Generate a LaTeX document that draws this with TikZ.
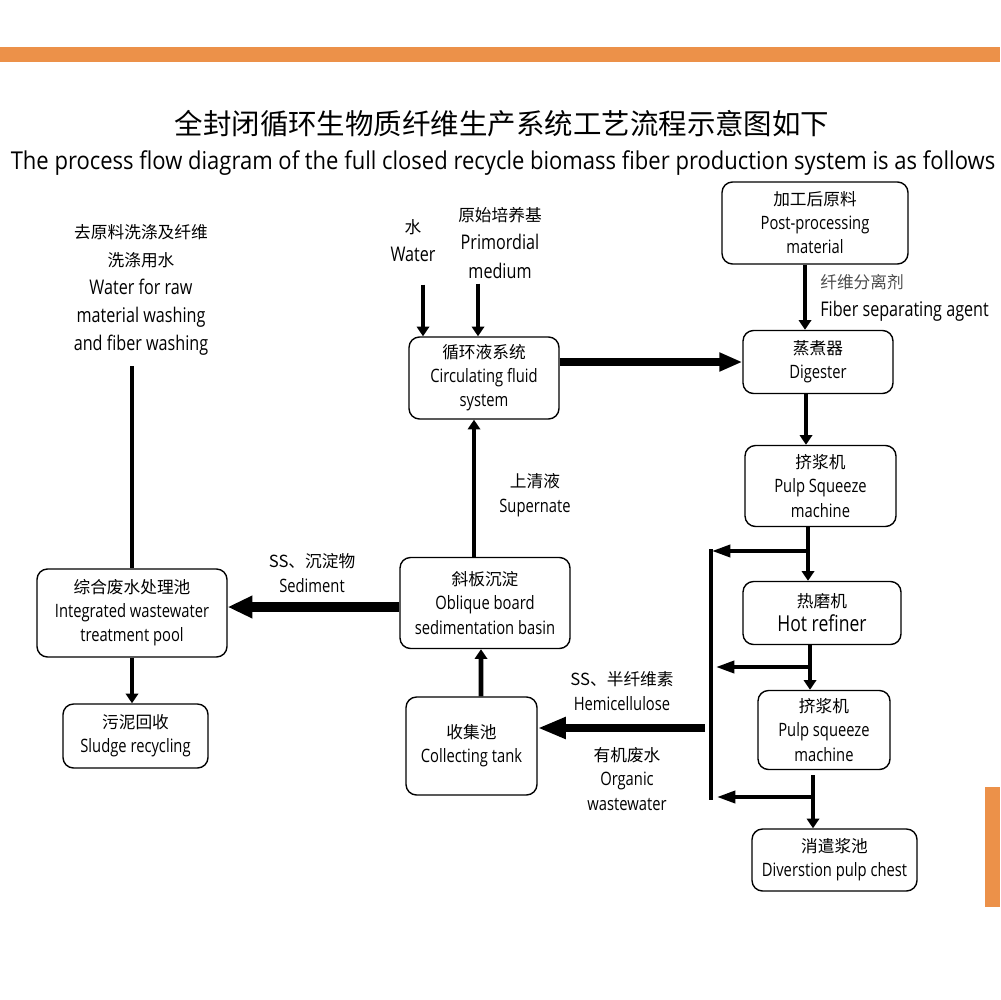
\documentclass[tikz,border=0pt]{standalone}
\usepackage{fontspec}
\setmainfont{Open Sans}[FakeStretch=0.8]
\newfontfamily\cjk{Noto Sans CJK SC}
\newfontfamily\subfont{Open Sans}[FakeStretch=0.895]
\usetikzlibrary{arrows.meta,calc}

\definecolor{barorange}{HTML}{EC9149}
\newcommand\chn[1]{{\cjk\fontsize{9.5}{13.7}\selectfont #1}}

\tikzset{
  box/.style={draw, rounded corners=6pt, line width=0.8pt, align=center, inner sep=0pt,
    font=\fontsize{10.5}{13.7}\selectfont},
  sz/.style 2 args={minimum width=#1*0.02cm, minimum height=#2*0.02cm},
  biglbl/.style={align=center, inner sep=0pt, font=\fontsize{11.5}{16}\selectfont},
  flowlbl/.style={align=center, inner sep=0pt, font=\fontsize{10.5}{14.2}\selectfont},
  arr/.style={line width=2.8pt, -{Triangle[length=5.5pt,width=7pt]}},
  feedarr/.style={line width=4.5pt, -{Triangle[length=13pt,width=10pt]}},
  sedarr/.style={line width=6pt, -{Triangle[length=14pt,width=12pt]}},
  collarr/.style={line width=5pt, -{Triangle[length=16pt,width=11.5pt]}},
  brarr/.style={line width=2.8pt, -{Triangle[length=11pt,width=6.5pt]}},
  pipe/.style={line width=2.8pt}
}

\begin{document}
\begin{tikzpicture}[x=0.02cm,y=-0.02cm]
  \useasboundingbox (0,0) rectangle (1000,1000);

  % orange bars
  \fill[barorange] (0,47) rectangle (1000,62);
  \fill[barorange] (985,787) rectangle (1000,907);

  % title
  \node[font=\cjk\fontsize{16.2}{18}\selectfont] (title) at (502,124) {全封闭循环生物质纤维生产系统工艺流程示意图如下};
  \node[font=\subfont\fontsize{14}{16}\selectfont] (subtitle) at (503,163) {The process flow diagram of the full closed recycle biomass fiber production system is as follows};

  % process boxes
  \node[box,sz={186}{82}] (post) at (815,223) {\chn{加工后原料}\\Post-processing\\material};
  \node[box,sz={150}{63}] (dig) at (818,362) {\chn{蒸煮器}\\Digester};
  \node[box,sz={150}{82}] (circ) at (484,378) {\chn{循环液系统}\\Circulating fluid\\system};
  \node[box,sz={151}{81}] (sqa) at (820.5,486) {\chn{挤浆机}\\Pulp Squeeze\\machine};
  \node[box,sz={158}{63}] (hot) at (822,613) {\chn{热磨机}\\{\fontsize{12.5}{15}\selectfont Hot refiner}};
  \node[box,sz={132}{79}] (sqb) at (824,730) {\chn{挤浆机}\\Pulp squeeze\\machine};
  \node[box,sz={165}{62}] (chest) at (834.5,860) {\chn{消遣浆池}\\Diverstion pulp chest};
  \node[box,sz={170}{91}] (obl) at (485,603) {\chn{斜板沉淀}\\Oblique board\\sedimentation basin};
  \node[box,sz={131}{98}] (coll) at (471.5,746) {\chn{收集池}\\Collecting tank};
  \node[box,sz={190}{88}] (integ) at (132,613) {\chn{综合废水处理池}\\Integrated wastewater\\treatment pool};
  \node[box,sz={145}{64}] (sludge) at (135.5,736) {\chn{污泥回收}\\Sludge recycling};

  % free labels
  \node[biglbl] (wash) at (141,290) {\chn{去原料洗涤及纤维}\\\chn{洗涤用水}\\Water for raw\\material washing\\and fiber washing};
  \node[biglbl] (water) at (413,241) {\chn{水}\\Water};
  \node[biglbl] (prim) at (500,243) {\chn{原始培养基}\\Primordial\\medium};
  \node[biglbl,align=left,anchor=west] (agent) at (820,298) {\textcolor{black!70}{\chn{纤维分离剂}}\\Fiber separating agent};
  \node[flowlbl] (super) at (535,495) {\chn{上清液}\\Supernate};
  \node[flowlbl] (sedi) at (312,573) {\chn{SS、沉淀物}\\Sediment};
  \node[flowlbl] (hemi) at (622,691) {\chn{SS、半纤维素}\\Hemicellulose};
  \node[flowlbl] (organic) at (627,779) {\chn{有机废水}\\Organic\\wastewater};

  % junctions on the main line
  \coordinate (busT) at (711,549);
  \coordinate (busB) at (711,800);
  \coordinate (ja) at (808,551);
  \coordinate (jb) at (810,667);
  \coordinate (jc) at (813,797);
  \coordinate (jd) at (705,728);

  % feeds
  \draw[arr] ($(water.south)+(10,22)$) -- ($(circ.north)+(-61,0)$);
  \draw[arr] ($(prim.south)+(-22,5)$) -- ($(circ.north)+(-6,0)$);
  \draw[feedarr] (circ.east |- dig.west) -- (dig.west);

  % pulp line
  \draw[arr] ($(post.south)+(-10,0)$) -- ($(dig.north)+(-13,0)$);
  \draw[arr] ($(dig.south)+(-12,0)$) -- ($(sqa.north)+(-14.5,0)$);
  \draw[arr] ($(sqa.south)+(-12.5,0)$) -- ($(hot.north)+(-14,0)$);
  \draw[arr] ($(hot.south)+(-12,0)$) -- ($(sqb.north)+(-14,0)$);
  \draw[arr] ($(sqb.south)+(-11,5)$) -- ($(chest.north)+(-21.5,0)$);

  % wastewater
  \draw[pipe] (busT) -- (busB);
  \draw[brarr] (ja) -- (ja -| busT);
  \draw[brarr] (jb) -- ($(jb -| busT)+(4,0)$);
  \draw[brarr] (jc) -- ($(jc -| busT)+(5,0)$);
  \draw[collarr] (jd) -- (jd -| coll.east);
  \draw[arr] ($(coll.north)+(9.5,0)$) -- ($(obl.south)+(-4,0)$);
  \draw[arr] ($(obl.north)+(-11,0)$) -- ($(circ.south)+(-10,0)$);
  \draw[sedarr] ($(obl.west)+(0,4)$) -- ($(integ.east)+(0,-6)$);
  \draw[pipe] ($(wash.south -| integ.north)+(0,10)$) -- (integ.north);
  \draw[arr] (integ.south) -- (integ.south |- sludge.north);

\end{tikzpicture}
\end{document}
